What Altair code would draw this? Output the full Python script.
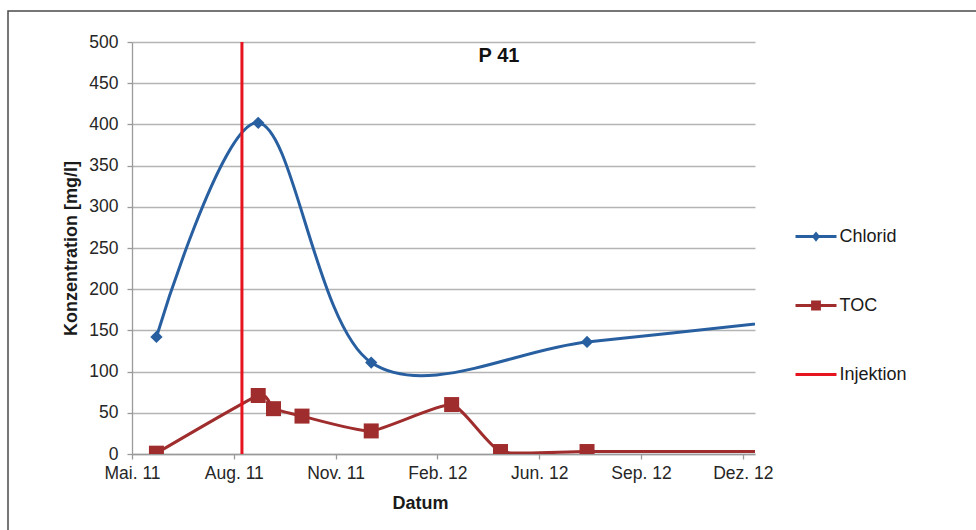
import altair as alt
import pandas as pd

# ---- data ----
chlorid_dates = ["2011-05-25", "2011-09-02", "2011-12-22", "2012-07-21", "2013-02-09"]
chlorid_values = [142, 402, 111, 136, 163]

toc_dates = ["2011-05-25", "2011-09-02", "2011-09-17", "2011-10-15", "2011-12-22",
             "2012-03-10", "2012-04-27", "2012-07-21", "2013-02-09"]
toc_values = [1, 71, 55, 46, 28, 60, 3, 3, 3]

injektion_dates = ["2011-08-17"]

series_names = ["Chlorid", "TOC", "Injektion"]
series_colors = ["#285FA0", "#A02D2D", "#E6141E"]

x_domain = ["2011-05-01", "2013-01-02"]
tick_dates = ["2011-05-01", "2011-08-09", "2011-11-17", "2012-02-25",
              "2012-06-04", "2012-09-12", "2012-12-21"]
tick_labels = ["Mai. 11", "Aug. 11", "Nov. 11", "Feb. 12", "Jun. 12", "Sep. 12", "Dez. 12"]
y_ticks = [0, 50, 100, 150, 200, 250, 300, 350, 400, 450, 500]

FONT = "Liberation Sans"


def dt(s):
    y, m, d = (int(p) for p in s.split("-"))
    return alt.DateTime(year=y, month=m, date=d)


chl = pd.DataFrame({"date": pd.to_datetime(chlorid_dates), "value": chlorid_values, "series": "Chlorid"})
toc = pd.DataFrame({"date": pd.to_datetime(toc_dates), "value": toc_values, "series": "TOC"})
inj = pd.DataFrame({"date": pd.to_datetime(injektion_dates), "series": "Injektion"})

label_list = "[" + ",".join("'" + t + "'" for t in tick_labels) + "]"
label_expr = f"{label_list}[round(datum.index * {len(tick_labels) - 1})]"

bar = "M-1,-0.073L1,-0.073L1,0.073L-1,0.073Z"
shape_expr = (
    f"datum.value === 'Chlorid' ? '{bar} M-0.2,0L0,-0.25L0.2,0L0,0.25Z' : "
    f"datum.value === 'TOC' ? '{bar} M-0.24,-0.24L0.24,-0.24L0.24,0.24L-0.24,0.24Z' : '{bar}'"
)

legend = alt.Legend(
    title=None, orient="none", legendX=663.5, legendY=174,
    symbolSize=1681, symbolStrokeWidth=0, labelFontSize=18, labelFont=FONT,
    labelColor="#1a1a1a", labelOffset=3, rowPadding=39, padding=0,
    symbolType=alt.ExprRef(shape_expr),
    symbolFillColor=alt.ExprRef("scale('color', datum.value)"),
    symbolOpacity=1,
)

color = alt.Color("series:N", scale=alt.Scale(domain=series_names, range=series_colors), legend=legend)

x_enc = alt.X(
    "date:T",
    scale=alt.Scale(domain=[dt(x_domain[0]), dt(x_domain[1])]),
    axis=alt.Axis(
        values=[dt(t) for t in tick_dates], labelExpr=label_expr, grid=False,
        labelFontSize=17.5, labelFont=FONT, labelColor="#262626", labelPadding=5,
        labelFlush=False, labelOverlap=False,
        tickSize=5, tickColor="#9a9a9a", domainColor="#9a9a9a", tickWidth=1.3, domainWidth=1.3,
        title="Datum", titleFontSize=18, titleFont=FONT, titleFontWeight="bold", titleColor="#1a1a1a",
        titleX=288, titleY=54, titleBaseline="alphabetic", titleAnchor="middle", titleAlign="center",
    ),
)
y_enc = alt.Y(
    "value:Q",
    scale=alt.Scale(domain=[0, 500], nice=False),
    axis=alt.Axis(
        values=y_ticks, grid=True, gridColor="#b4b4b4", gridWidth=1.4,
        labelFontSize=17.5, labelFont=FONT, labelColor="#262626", labelPadding=9,
        tickSize=5, tickColor="#9a9a9a", domainColor="#9a9a9a", tickWidth=1.3, domainWidth=1.3,
        title="Konzentration [mg/l]", titleFontSize=18, titleFont=FONT, titleFontWeight="bold",
        titleColor="#1a1a1a", titleAngle=270, titleX=-56, titleY=206, titleBaseline="alphabetic",
        titleAlign="center",
    ),
)

frame = alt.Chart(alt.Data(values=[{}])).mark_rect(
    filled=False, stroke="#4a4a4a", strokeWidth=1.5, clip=False
).encode(x=alt.value(-124), y=alt.value(-31), x2=alt.value(870), y2=alt.value(520))

chl_line = alt.Chart(chl).mark_line(interpolate="cardinal", tension=0, strokeWidth=3, clip=True).encode(
    x=x_enc, y=y_enc, color=color)
toc_line = alt.Chart(toc).mark_line(interpolate="cardinal", tension=0.5, strokeWidth=3, clip=True).encode(
    x=x_enc, y=y_enc, color=color)
inj_rule = alt.Chart(inj).mark_rule(strokeWidth=3).encode(x=x_enc, color=color)
chl_pts = alt.Chart(chl).mark_point(shape="diamond", filled=True, size=150, opacity=1, clip=True).encode(
    x=x_enc, y=y_enc, color=color)
toc_pts = alt.Chart(toc).mark_point(shape="square", filled=True, size=225, opacity=1, clip=True).encode(
    x=x_enc, y=y_enc, color=color)

chart = alt.layer(frame, chl_line, toc_line, inj_rule, chl_pts, toc_pts).properties(
    width=623, height=412,
    autosize=alt.AutoSizeParams(type="none"),
    padding={"left": 132, "top": 42, "right": 221, "bottom": 76},
    background="white",
    title=alt.TitleParams(
        "P 41", fontSize=20, fontWeight="bold", font=FONT, color="#111111",
        anchor="middle", frame="group", offset=-72, dx=55.5, baseline="alphabetic",
    ),
).configure_view(stroke="transparent")

chart.save("out.html", embed_options={"renderer": "svg", "actions": False})
